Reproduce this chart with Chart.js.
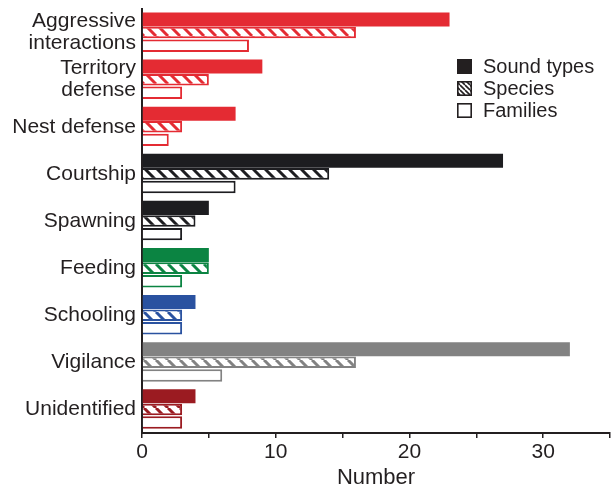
<!DOCTYPE html>
<html>
<head>
<meta charset="utf-8">
<script src="https://cdn.jsdelivr.net/npm/chart.js@4.4.0/dist/chart.umd.min.js"></script>
<style>
  html, body { margin: 0; padding: 0; background: #ffffff; }
  canvas { display: block; }
</style>
</head>
<body>
<canvas id="chart" width="614" height="491"></canvas>
<script>
// Behaviour categories (multi-line labels are arrays)
const categories = [
  ['Aggressive', 'interactions'],
  ['Territory', 'defense'],
  'Nest defense',
  'Courtship',
  'Spawning',
  'Feeding',
  'Schooling',
  'Vigilance',
  'Unidentified'
];
const seriesNames = ['Sound types', 'Species', 'Families'];
const soundTypes = [23, 9, 7, 27, 5, 5, 4, 32, 4];
const species    = [16, 5, 3, 14, 4, 5, 3, 16, 3];
const families   = [8, 3, 2, 7, 3, 3, 3, 6, 3];
const categoryColors = ['#e42b33', '#e42b33', '#e42b33', '#1d1d20', '#1d1d20',
                        '#0b8442', '#2a52a0', '#828282', '#9b1b21'];
const xTickLabels = [0, 10, 20, 30];

const FONT = '"Liberation Sans", Arial, Helvetica, sans-serif';
const INK = '#231f20';

// Diagonal "\" hatch on white, in the given colour
function hatch(color, step, width) {
  const c = document.createElement('canvas');
  c.width = step; c.height = step;
  const g = c.getContext('2d');
  g.fillStyle = '#ffffff';
  g.fillRect(0, 0, step, step);
  g.strokeStyle = color;
  g.lineWidth = width;
  g.beginPath();
  for (const k of [-step, 0, step]) {
    g.moveTo(k, 0);
    g.lineTo(k + step, step);
  }
  g.stroke();
  return g.createPattern(c, 'repeat');
}

const hatchFills = categoryColors.map(c => hatch(c, 12, 3));

// Legend drawn as three stacked swatches at the upper right of the plot
const swatchLegend = {
  id: 'swatchLegend',
  afterDraw(chart, args, opts) {
    const ctx = chart.ctx;
    ctx.save();
    chart.data.datasets.forEach((ds, i) => {
      const x = opts.x, y = opts.y + i * opts.gap, s = opts.size;
      if (i === 0) {
        ctx.fillStyle = INK;
        ctx.fillRect(x, y, s, s);
      } else {
        ctx.fillStyle = i === 1 ? hatch(INK, 5, 1.6) : '#ffffff';
        ctx.fillRect(x, y, s, s);
        ctx.strokeStyle = INK;
        ctx.lineWidth = 1.6;
        ctx.strokeRect(x + 0.8, y + 0.8, s - 1.6, s - 1.6);
      }
      ctx.fillStyle = INK;
      ctx.font = '20px ' + FONT;
      ctx.textBaseline = 'middle';
      ctx.textAlign = 'left';
      ctx.fillText(ds.label, opts.textX, y + s / 2 + 1);
    });
    ctx.restore();
  }
};

new Chart(document.getElementById('chart'), {
  type: 'bar',
  data: {
    labels: categories,
    datasets: [
      {
        label: seriesNames[0],
        data: soundTypes,
        backgroundColor: categoryColors,
        borderWidth: 0,
        barPercentage: 1.07
      },
      {
        label: seriesNames[1],
        data: species,
        backgroundColor: hatchFills,
        borderColor: categoryColors,
        borderWidth: 2,
        barPercentage: 0.88
      },
      {
        label: seriesNames[2],
        data: families,
        backgroundColor: '#ffffff',
        borderColor: categoryColors,
        borderWidth: 2,
        barPercentage: 0.95
      }
    ]
  },
  options: {
    indexAxis: 'y',
    responsive: false,
    animation: false,
    devicePixelRatio: 1,
    layout: { padding: { top: 9, right: 4, left: 0, bottom: 0 } },
    datasets: { bar: { categoryPercentage: 0.835 } },
    plugins: {
      legend: { display: false },
      tooltip: { enabled: false },
      swatchLegend: { x: 457, y: 59, size: 15, gap: 22, textX: 483 }
    },
    scales: {
      x: {
        min: 0,
        max: 35,
        ticks: {
          stepSize: 5,
          autoSkip: false,
          maxRotation: 0,
          padding: 2,
          color: INK,
          font: { family: FONT, size: 21 },
          callback: v => xTickLabels.includes(v) ? String(v) : ''
        },
        grid: { drawOnChartArea: false, drawTicks: true, tickLength: 5, color: INK, lineWidth: 1.5 },
        border: { display: true, color: INK, width: 2 },
        title: {
          display: true,
          text: 'Number',
          color: INK,
          font: { family: FONT, size: 22 },
          padding: { top: 3, bottom: 0 }
        },
        afterFit: s => { s.height = 58; }
      },
      y: {
        grid: { display: false },
        border: { display: true, color: INK, width: 2 },
        ticks: {
          color: INK,
          autoSkip: false,
          padding: -2,
          font: { family: FONT, size: 21, lineHeight: 1.05 }
        },
        afterFit: s => {
          s.width = 142;
          s.paddingTop = 0;
          s.paddingBottom = 0;
        }
      }
    }
  },
  plugins: [swatchLegend]
});
</script>
</body>
</html>
